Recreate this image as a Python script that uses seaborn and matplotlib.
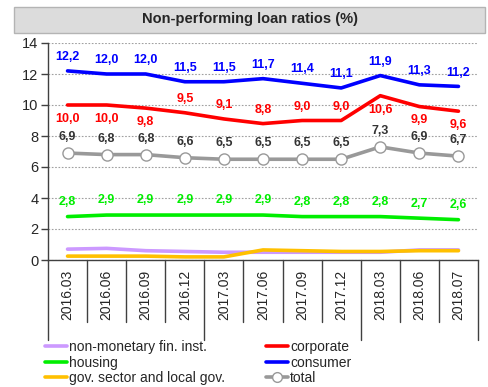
import matplotlib
matplotlib.use("Agg")
import matplotlib.pyplot as plt
from matplotlib.patches import Rectangle
from matplotlib.lines import Line2D
import matplotlib.transforms as mtransforms
import seaborn as sns
import pandas as pd

periods = ["2016.03", "2016.06", "2016.09", "2016.12", "2017.03", "2017.06",
           "2017.09", "2017.12", "2018.03", "2018.06", "2018.07"]

non_monetary = [0.70, 0.75, 0.60, 0.55, 0.50, 0.50, 0.50, 0.50, 0.50, 0.65, 0.65]
corporate = [10.0, 10.0, 9.8, 9.5, 9.1, 8.8, 9.0, 9.0, 10.6, 9.9, 9.6]
housing = [2.8, 2.9, 2.9, 2.9, 2.9, 2.9, 2.8, 2.8, 2.8, 2.7, 2.6]
consumer = [12.2, 12.0, 12.0, 11.5, 11.5, 11.7, 11.4, 11.1, 11.9, 11.3, 11.2]
government = [0.25, 0.25, 0.25, 0.20, 0.20, 0.65, 0.60, 0.55, 0.55, 0.60, 0.60]
total = [6.9, 6.8, 6.8, 6.6, 6.5, 6.5, 6.5, 6.5, 7.3, 6.9, 6.7]

# corporate labels: below the line (-1) or above it (+1)
corporate_side = [-1, -1, -1, 1, 1, 1, 1, 1, -1, -1, -1]

sns.set_style("white")
plt.rcParams["font.family"] = ["Liberation Sans", "DejaVu Sans"]

fig = plt.figure(figsize=(4.89, 3.87), dpi=100)
ax = fig.add_axes([48 / 489, 1 - 260 / 387, 430 / 489, 217 / 387])

x = list(range(len(periods)))
df = pd.DataFrame({"x": x, "nonmon": non_monetary, "corp": corporate,
                   "housing": housing, "consumer": consumer,
                   "gov": government, "total": total})

lw = 2.6
series = [
    ("nonmon", "#cc99ff", "non-monetary fin. inst."),
    ("housing", "#00ee00", "housing"),
    ("gov", "#ffc000", "gov. sector and local gov."),
    ("corp", "#ff0000", "corporate"),
    ("consumer", "#0000ff", "consumer"),
]
for col, color, _ in series:
    sns.lineplot(data=df, x="x", y=col, color=color, lw=lw, ax=ax, zorder=3)
sns.lineplot(data=df, x="x", y="total", color="#999999", lw=lw, ax=ax,
             marker="o", markersize=8, markerfacecolor="white",
             markeredgecolor="#999999", markeredgewidth=1.0, zorder=4)

lab_kw = dict(textcoords="offset points", ha="center", va="center",
              fontsize=9, fontweight="bold")
fmt = lambda v: f"{v:.1f}".replace(".", ",")
for i in x:
    ax.annotate(fmt(consumer[i]), (i, consumer[i]), xytext=(0, 10),
                color="#0000ff", **lab_kw)
    ax.annotate(fmt(corporate[i]), (i, corporate[i]),
                xytext=(0, 10 * corporate_side[i]), color="#ff0000", **lab_kw)
    ax.annotate(fmt(total[i]), (i, total[i]), xytext=(0, 11.5),
                color="#333333", **lab_kw)
    ax.annotate(fmt(housing[i]), (i, housing[i]), xytext=(0, 10.5),
                color="#00ee00", **lab_kw)

ax.set_xlim(-0.5, len(periods) - 0.5)
ax.set_ylim(0, 14)
ax.set_yticks(range(0, 15, 2))
ax.tick_params(axis="y", labelsize=10.5, length=5, width=1, color="#404040",
               left=True, pad=2)
ax.set_xticks(x)
ax.set_xticklabels(periods, rotation=90, fontsize=10, va="top")
ax.tick_params(axis="x", length=0, pad=7)
ax.set_xlabel("")
ax.set_ylabel("")
ax.grid(axis="y", color="#a0a0a0", linestyle=(0, (1.5, 1.5)), lw=0.8)
for side in ("top", "right"):
    ax.spines[side].set_visible(False)
for side in ("left", "bottom"):
    ax.spines[side].set_color("#404040")
    ax.spines[side].set_linewidth(1.0)

# category separators below the axis, longer ones between year groups
trans = mtransforms.blended_transform_factory(ax.transData, ax.transAxes)
for b in range(len(periods) + 1):
    edge = b - 0.5
    depth = -0.369 if b in (0, 4, 8, 11) else -0.286
    ax.add_line(Line2D([edge, edge], [0, depth], transform=trans,
                       color="#404040", lw=1.0, clip_on=False))

# title banner
fig.patches.append(Rectangle((14 / 489, 1 - 33 / 387), 471 / 489, 26 / 387,
                             transform=fig.transFigure, facecolor="#dcdcdc",
                             edgecolor="#b4b4b4", lw=1.0))
fig.text(250 / 489, 1 - 19 / 387, "Non-performing loan ratios (%)",
         ha="center", va="center", fontsize=10.5, fontweight="bold")

handles = [Line2D([], [], color=c, lw=lw) for _, c, _ in series[:3]]
handles += [Line2D([], [], color=c, lw=lw) for _, c, _ in series[3:]]
handles.append(Line2D([], [], color="#999999", lw=lw, marker="o",
                      markersize=7, markerfacecolor="white",
                      markeredgecolor="#999999"))
labels = [s[2] for s in series] + ["total"]
fig.legend(handles, labels, ncol=2, loc="upper left",
           bbox_to_anchor=(45 / 489, 1 - 340 / 387), frameon=False,
           fontsize=10, handlelength=1.6, handletextpad=0.15,
           labelspacing=0.12, columnspacing=2.9, borderpad=0,
           borderaxespad=0)

fig.savefig("out.png", dpi=100)
